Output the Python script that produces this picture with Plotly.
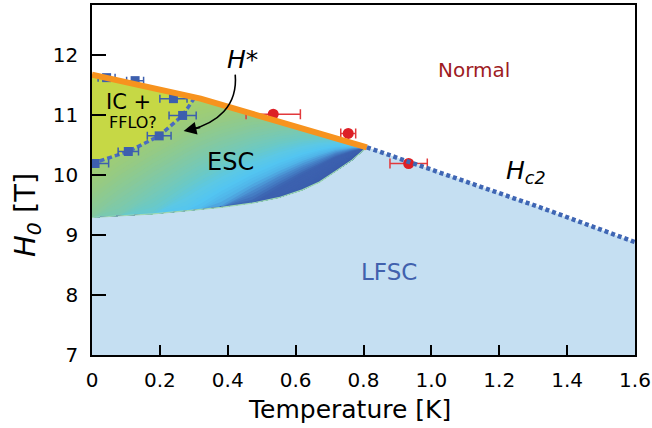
import numpy as np
import plotly.graph_objects as go
from plotly.colors import sample_colorscale

# ---------------- data ----------------
hc2_solid_T = [0.0, 0.32, 0.81]
hc2_solid_H = [11.67, 11.27, 10.46]

hc2_dot_T = [0.81, 1.09, 1.33, 1.6]
hc2_dot_H = [10.46, 9.92, 9.44, 8.88]

esc_low_T = [0.0, 0.08, 0.18, 0.275, 0.38, 0.472, 0.55, 0.62, 0.67, 0.718, 0.767, 0.81]
esc_low_H = [9.29, 9.32, 9.35, 9.40, 9.46, 9.53, 9.62, 9.75, 9.88, 10.06, 10.25, 10.46]

hstar_T = [0.0, 0.107, 0.198, 0.267, 0.304]
hstar_H = [10.19, 10.39, 10.65, 10.99, 11.30]

sq_T = [0.009, 0.107, 0.198, 0.267, 0.043, 0.127, 0.24]
sq_H = [10.19, 10.39, 10.65, 10.99, 11.62, 11.57, 11.27]
sq_err = [0.04, 0.03, 0.035, 0.04, 0.025, 0.025, 0.04]

ci_T = [0.534, 0.755, 0.933]
ci_H = [11.01, 10.69, 10.19]
ci_err = [0.08, 0.022, 0.055]

x_ticks = [0, 0.2, 0.4, 0.6, 0.8, 1.0, 1.2, 1.4, 1.6]
x_ticktext = ["0", "0.2", "0.4", "0.6", "0.8", "1.0", "1.2", "1.4", "1.6"]
y_ticks = [7, 8, 9, 10, 11, 12]

# ESC colour gradient (styling only): colour index s = v - k*T,
# v = relative height inside the ESC band (0 at lower edge, 1 at Hc2)
esc_grad_k = 1.74
esc_grad_stops = [-1.45, -0.80, -0.68, -0.58, -0.48, -0.36, -0.22, -0.03, 0.2, 0.5, 0.75, 1.0]
esc_grad_colors = ["#3a5aa9", "#3c62b0", "#4888cc", "#50b3e8", "#52c5f2", "#5cc8e4",
                   "#6cc9c4", "#80c9a6", "#95ca84", "#aad065", "#bcd550", "#c6d846"]

T_MIN, T_MAX = 0.0, 1.6
H_MIN, H_MAX = 7.0, 12.83

FONT = "DejaVu Sans"
BLUE = "#3d5fae"
ORANGE = "#f7931e"
RED = "#dd1f26"

fig = go.Figure()

# LFSC region (below Hc2)
lf_T = [T_MIN] + hc2_solid_T + hc2_dot_T[1:] + [T_MAX]
lf_H = [H_MIN] + hc2_solid_H + hc2_dot_H[1:] + [H_MIN]
fig.add_trace(go.Scatter(x=lf_T, y=lf_H, fill="toself", mode="lines",
                         line=dict(width=0), fillcolor="#c5dff2",
                         hoverinfo="skip", showlegend=False))

# ESC region: nested layers between the lower edge and an iso-colour curve
Ts = np.array(sorted(set(esc_low_T + hc2_solid_T)))
H_lo = np.interp(Ts, esc_low_T, esc_low_H)
H_hi = np.interp(Ts, hc2_solid_T, hc2_solid_H)
s_lo, s_hi = esc_grad_stops[0], esc_grad_stops[-1]
cscale = [[(s - s_lo) / (s_hi - s_lo), c] for s, c in zip(esc_grad_stops, esc_grad_colors)]
n_levels = 70
for i in range(n_levels + 1):
    level = s_hi - (s_hi - s_lo) * i / n_levels
    frac = np.clip(level + esc_grad_k * Ts, 0.0, 1.0)
    if frac.max() <= 0:
        continue
    H_iso = H_lo + frac * (H_hi - H_lo)
    col = sample_colorscale(cscale, [(level - s_lo) / (s_hi - s_lo)])[0]
    fig.add_trace(go.Scatter(x=list(Ts) + list(Ts[::-1]),
                             y=list(H_lo) + list(H_iso[::-1]),
                             fill="toself", mode="lines", line=dict(width=0),
                             fillcolor=col, hoverinfo="skip", showlegend=False))

# thin edge on ESC lower boundary
fig.add_trace(go.Scatter(x=esc_low_T, y=esc_low_H, mode="lines",
                         line=dict(color="#9fd8b4", width=1.2),
                         hoverinfo="skip", showlegend=False))

# IC + FFLO region
ic_T = hstar_T + [hc2_solid_T[0]]
ic_H = hstar_H + [hc2_solid_H[0]]
fig.add_trace(go.Scatter(x=ic_T, y=ic_H, fill="toself", mode="lines",
                         line=dict(width=0), fillcolor="#c6d845",
                         hoverinfo="skip", showlegend=False))

# H* dashed line
fig.add_trace(go.Scatter(x=hstar_T, y=hstar_H, mode="lines",
                         line=dict(color="#4a6cc0", width=3.5, dash="5px,3px"),
                         hoverinfo="skip", showlegend=False))

# blue squares with error bars
fig.add_trace(go.Scatter(x=sq_T, y=sq_H, mode="markers",
                         marker=dict(symbol="square", size=9, color=BLUE),
                         error_x=dict(type="data", array=sq_err, color=BLUE,
                                      thickness=1.5, width=4),
                         hoverinfo="skip", showlegend=False))

# red circles with error bars
fig.add_trace(go.Scatter(x=ci_T, y=ci_H, mode="markers",
                         marker=dict(symbol="circle", size=11, color=RED),
                         error_x=dict(type="data", array=ci_err, color="#e2393c",
                                      thickness=1.5, width=5),
                         hoverinfo="skip", showlegend=False))

# Hc2 solid (orange)
fig.add_trace(go.Scatter(x=hc2_solid_T, y=hc2_solid_H, mode="lines",
                         line=dict(color=ORANGE, width=6),
                         hoverinfo="skip", showlegend=False))
# Hc2 dotted
fig.add_trace(go.Scatter(x=hc2_dot_T, y=hc2_dot_H, mode="lines",
                         line=dict(color="#3f66b4", width=4.5, dash="4px,3px"),
                         hoverinfo="skip", showlegend=False))

# curved arrow
fig.add_shape(type="path", xref="x", yref="y",
              path="M 0.422,11.67 C 0.43,11.15 0.37,10.86 0.285,10.74",
              line=dict(color="black", width=1.6))

annotations = [
    dict(x=0.27, y=10.73, ax=18, ay=-4, text="", showarrow=True,
         arrowhead=2, arrowsize=1.6, arrowwidth=1.6, arrowcolor="black"),
    dict(x=1.127, y=11.75, text="Normal", font=dict(size=20, color="#9e1b1f")),
    dict(x=0.407, y=10.22, text="ESC", font=dict(size=24, color="black")),
    dict(x=0.875, y=8.39, text="LFSC", font=dict(size=23, color="#4161ad")),
    dict(x=0.107, y=11.22, text="IC +", font=dict(size=21, color="black")),
    dict(x=0.122, y=10.88, text="FFLO?", font=dict(size=16, color="black")),
    dict(x=0.442, y=11.93, text="<i>H</i>*", font=dict(size=25, color="black")),
    dict(x=1.28, y=10.05, text="<i>H</i><sub><i>c2</i></sub>",
         font=dict(size=25, color="black")),
    # axis titles
    dict(xref="paper", yref="paper", x=(349 - 92) / 543, y=-0.155,
         text="Temperature [K]", font=dict(size=25, color="black"),
         xanchor="center", yanchor="middle"),
    dict(xref="paper", yref="paper", x=(27 - 92) / 543, y=(355 - 215) / 350,
         text="<i>H</i><sub><i>0</i></sub> [T]", textangle=-90,
         font=dict(size=29, color="black"), xanchor="center", yanchor="middle"),
]
for a in annotations:
    a.setdefault("showarrow", False)
    a["font"] = dict(family=FONT, **a.get("font", {}))
fig.update_layout(annotations=annotations)

fig.update_layout(
    width=652, height=428,
    margin=dict(l=92, r=17, t=5, b=73),
    plot_bgcolor="white", paper_bgcolor="white",
    font=dict(family=FONT, size=20, color="black"),
    xaxis=dict(range=[T_MIN, T_MAX], tickvals=x_ticks, ticktext=x_ticktext,
               ticks="inside", ticklen=10, tickwidth=1.5, tickcolor="black",
               showline=True, linecolor="black", linewidth=1.5, mirror=True,
               showgrid=False, zeroline=False, ticklabelstandoff=6,
               automargin=False, tickfont=dict(family=FONT, size=20)),
    yaxis=dict(range=[H_MIN, H_MAX], tickvals=y_ticks,
               ticks="inside", ticklen=14, tickwidth=1.5, tickcolor="black",
               showline=True, linecolor="black", linewidth=1.5, mirror=True,
               showgrid=False, zeroline=False, ticklabelstandoff=8,
               automargin=False, tickfont=dict(family=FONT, size=20)),
)

fig.write_html("out.html", config={"displayModeBar": False},
               post_script="document.body.style.margin='0px';document.body.style.overflow='hidden';")
